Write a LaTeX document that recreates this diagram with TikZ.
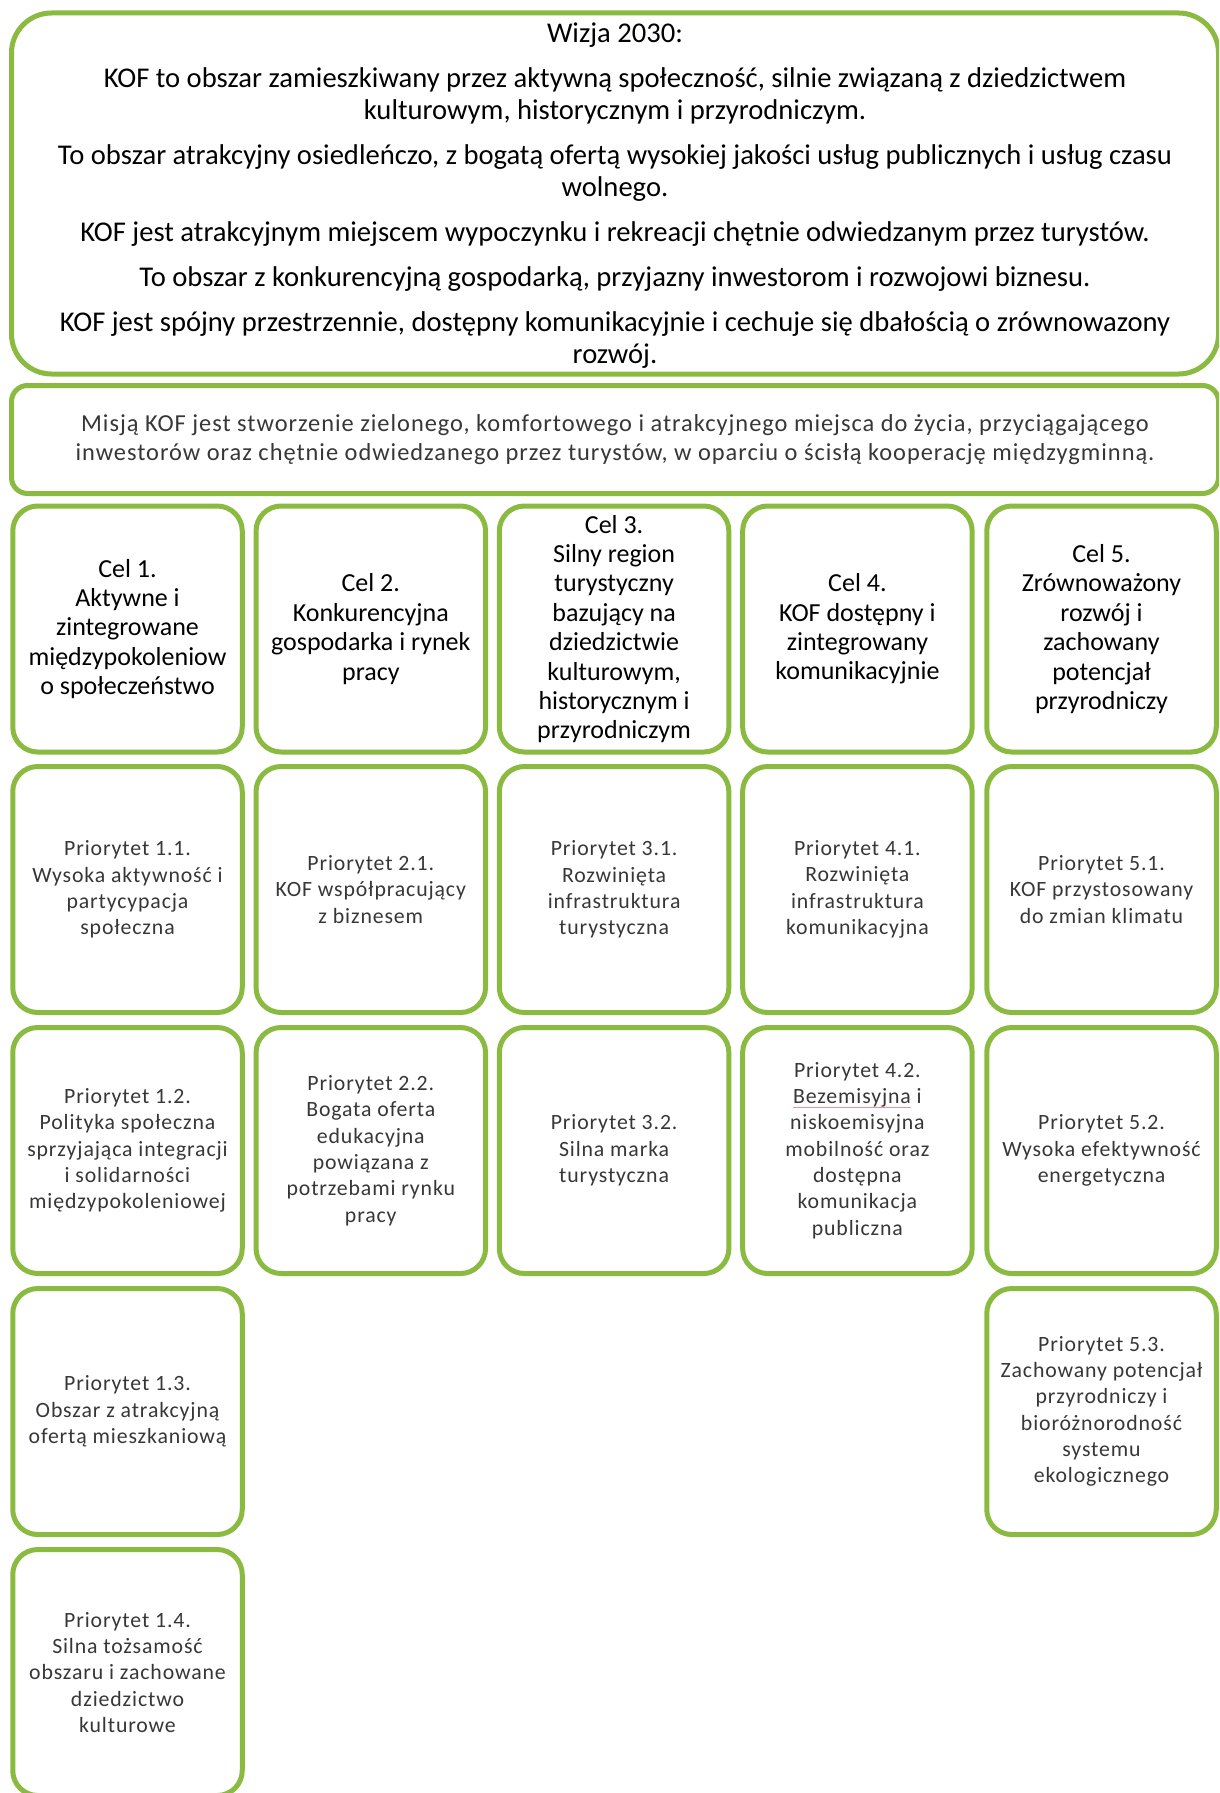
\documentclass[tikz,border=0pt]{standalone}
\usepackage{fontspec}
\setmainfont{Carlito}
\newfontfamily\prifont[LetterSpace=4]{Carlito}
\definecolor{kofgreen}{RGB}{139,186,64}
\definecolor{pritext}{RGB}{55,55,55}
\newcommand{\spellmark}[1]{\setbox0\hbox{#1}\rlap{\color{red!45}\rule[-4pt]{\wd0}{0.8pt}}\box0\relax}
\begin{document}
\begin{tikzpicture}[x=1pt,y=-1pt,
  frame/.style={draw=kofgreen, line width=5pt, inner sep=0pt, align=center},
  visionbox/.style={frame, rounded corners=40pt, minimum width=1207pt, minimum height=361pt,
     font=\fontsize{28.6}{32}\selectfont, text=black},
  missionbox/.style={frame, rounded corners=16pt, minimum width=1207pt, minimum height=108pt,
     font=\prifont\fontsize{24.4}{29.7}\selectfont, text=pritext},
  celbox/.style={frame, rounded corners=25pt, minimum width=229.5pt, minimum height=246pt,
     font=\fontsize{26}{29.4}\selectfont, text=black},
  pribox/.style={frame, rounded corners=25pt, minimum width=229.5pt, minimum height=246pt,
     font=\prifont\fontsize{21.8}{26.3}\selectfont, text=pritext}]
\useasboundingbox (0,0) rectangle (1219,1793);
\clip (0,0) rectangle (1219,1793);
\fill[white] (0,0) rectangle (1219,1793);

\node[frame, rounded corners=40pt, minimum width=1207pt, minimum height=361pt] (vision) at (615,193.5) {};
\node[align=center, inner sep=0pt, font=\fontsize{28.6}{32}\selectfont, text=black, anchor=north] (visiontext) at ([yshift=-12pt]vision.north) {Wizja 2030:\\[13pt]
KOF to obszar zamieszkiwany przez aktywną społeczność, silnie związaną z dziedzictwem\\
kulturowym, historycznym i przyrodniczym.\\[13pt]
To obszar atrakcyjny osiedleńczo, z bogatą ofertą wysokiej jakości usług publicznych i usług czasu\\
wolnego.\\[13pt]
KOF jest atrakcyjnym miejscem wypoczynku i rekreacji chętnie odwiedzanym przez turystów.\\[13pt]
To obszar z konkurencyjną gospodarką, przyjazny inwestorom i rozwojowi biznesu.\\[13pt]
KOF jest spójny przestrzennie, dostępny komunikacyjnie i cechuje się dbałością o zrównowazony\\
rozwój.};

\node[missionbox] (mission) at (615,439.5) {Misją KOF jest stworzenie zielonego, komfortowego i atrakcyjnego miejsca do życia, przyciągającego\\
inwestorów oraz chętnie odwiedzanego przez turystów, w oparciu o ścisłą kooperację międzygminną.};

% Cele
\node[celbox] (c1) at (127.5,629) {Cel 1.\\Aktywne i\\zintegrowane\\międzypokoleniow\\o społeczeństwo};
\node[celbox] (c2) at (370.8,629) {Cel 2.\\Konkurencyjna\\gospodarka i rynek\\pracy};
\node[celbox] (c3) at (614.1,629) {Cel 3.\\Silny region\\turystyczny\\bazujący na\\dziedzictwie\\kulturowym,\\historycznym i\\przyrodniczym};
\node[celbox] (c4) at (857.4,629) {Cel 4.\\KOF dostępny i\\zintegrowany\\komunikacyjnie};
\node[celbox] (c5) at (1101.5,629) {Cel 5.\\Zrównoważony\\rozwój i\\zachowany\\potencjał\\przyrodniczy};

% Priorytety row 1
\node[pribox] (p11) at (127.5,889.5) {Priorytet 1.1.\\Wysoka aktywność i\\partycypacja\\społeczna};
\node[pribox] (p21) at (370.8,889.5) {Priorytet 2.1.\\KOF współpracujący\\z biznesem};
\node[pribox] (p31) at (614.1,889.5) {Priorytet 3.1.\\Rozwinięta\\infrastruktura\\turystyczna};
\node[pribox] (p41) at (857.4,889.5) {Priorytet 4.1.\\Rozwinięta\\infrastruktura\\komunikacyjna};
\node[pribox] (p51) at (1101.5,889.5) {Priorytet 5.1.\\KOF przystosowany\\do zmian klimatu};

% row 2
\node[pribox] (p12) at (127.5,1150.5) {Priorytet 1.2.\\Polityka społeczna\\sprzyjająca integracji\\i solidarności\\międzypokoleniowej};
\node[pribox] (p22) at (370.8,1150.5) {Priorytet 2.2.\\Bogata oferta\\edukacyjna\\powiązana z\\potrzebami rynku\\pracy};
\node[pribox] (p32) at (614.1,1150.5) {Priorytet 3.2.\\Silna marka\\turystyczna};
\node[pribox] (p42) at (857.4,1150.5) {Priorytet 4.2.\\\spellmark{Bezemisyjna} i\\niskoemisyjna\\mobilność oraz\\dostępna\\komunikacja\\publiczna};
\node[pribox] (p52) at (1101.5,1150.5) {Priorytet 5.2.\\Wysoka efektywność\\energetyczna};

% row 3
\node[pribox] (p13) at (127.5,1411.5) {Priorytet 1.3.\\Obszar z atrakcyjną\\ofertą mieszkaniową};
\node[pribox] (p53) at (1101.5,1411.5) {Priorytet 5.3.\\Zachowany potencjał\\przyrodniczy i\\bioróżnorodność\\systemu\\ekologicznego};

% row 4
\node[pribox] (p14) at (127.5,1672.5) {Priorytet 1.4.\\Silna tożsamość\\obszaru i zachowane\\dziedzictwo\\kulturowe};
\end{tikzpicture}
\end{document}
